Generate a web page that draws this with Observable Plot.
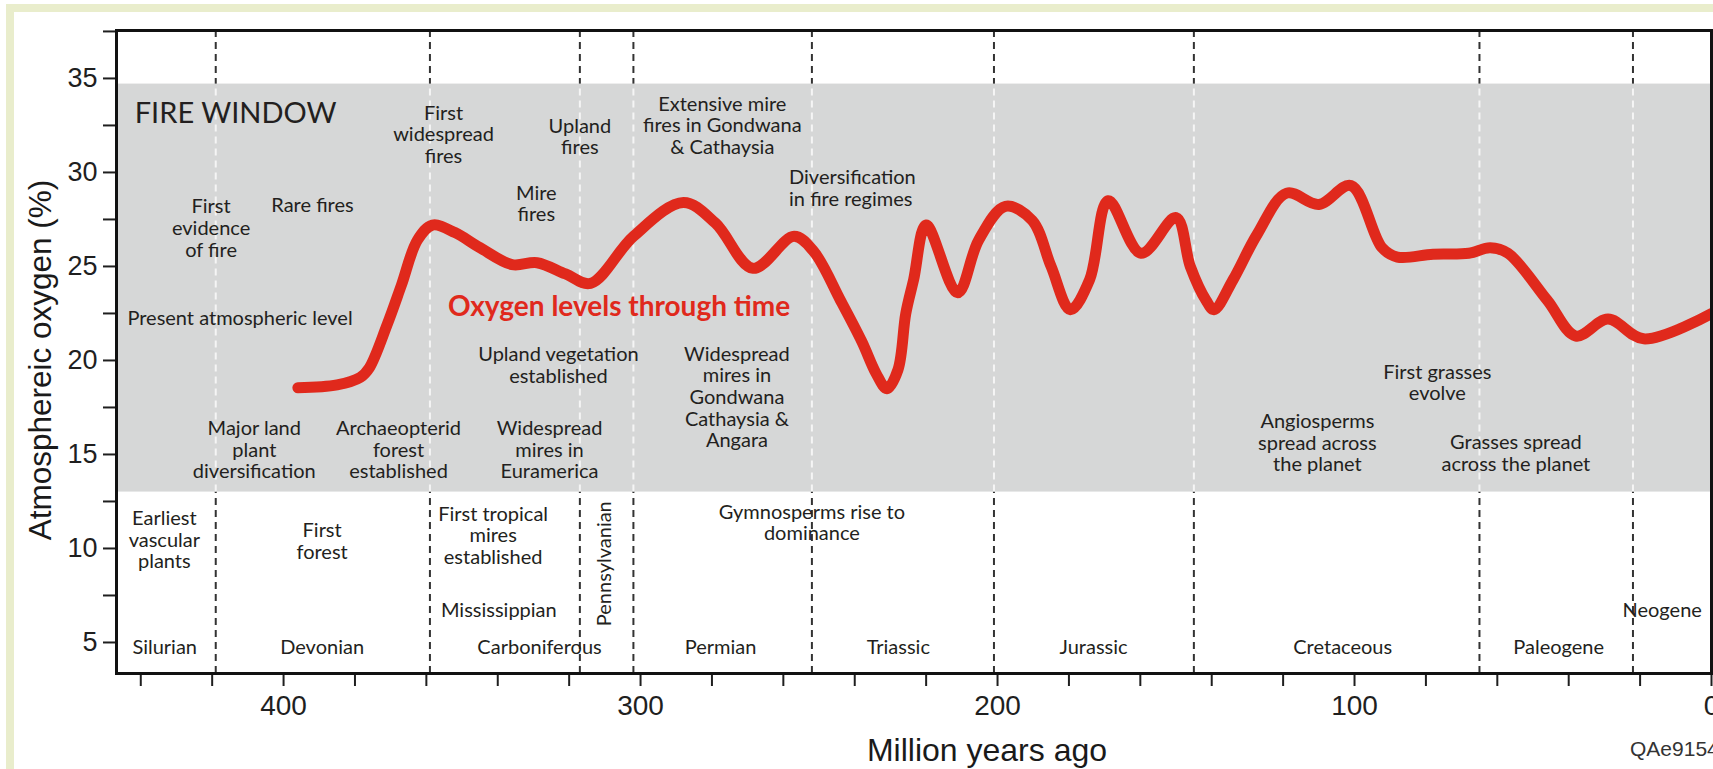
<!DOCTYPE html>
<html>
<head>
<meta charset="utf-8">
<script src="https://cdn.jsdelivr.net/npm/d3@7"></script>
<script src="https://cdn.jsdelivr.net/npm/@observablehq/plot@0.6"></script>
<style>
  html, body { margin: 0; padding: 0; background: #ffffff; }
  body { width: 1713px; height: 769px; overflow: hidden; position: relative; }
  #border { position: absolute; left: 6px; top: 4px; width: 1800px; height: 900px;
            border: 8px solid #e9edcc; box-sizing: border-box; background: #ffffff; }
  #chart { position: absolute; left: 0; top: 0; }
  .lab { position: absolute; font-family: "Liberation Sans", Arial, sans-serif; color: #1a1a1a;
         white-space: nowrap; transform: translate(-50%, -50%); }
</style>
</head>
<body>
<div id="border"></div>
<div id="chart"></div>
<div class="lab" style="left:40px; top:360px; font-size:31.5px; transform: translate(-50%,-50%) rotate(-90deg);">Atmosphereic oxygen (%)</div>
<div class="lab" style="left:987px; top:750px; font-size:32px;">Million years ago</div>
<div class="lab" style="left:1630px; top:749px; font-size:21px; transform: translate(0,-50%); color:#333;">QAe9154</div>
<script>
// ---- data ----
const ages = [396, 385, 378.5, 376, 371, 367, 362.5, 358.3, 352, 345, 336, 329, 321, 314, 302, 288, 279, 268.5, 257, 251.5, 244, 238, 234, 231, 227.9, 225.7, 223.5, 220, 211.2, 205.3, 197.8, 190.3, 185, 179.6, 174.2, 169, 159.8, 150, 146, 141.6, 139.4, 134, 127.3, 119, 110, 101, 92.3, 88, 78, 68, 62, 57, 46, 38, 29, 19, 0];
const oxygen = [18.55, 18.7, 19.1, 19.6, 21.9, 24.0, 26.4, 27.2, 26.8, 26.0, 25.1, 25.2, 24.6, 24.1, 26.6, 28.4, 27.3, 24.9, 26.6, 25.8, 23.2, 21.0, 19.3, 18.5, 19.5, 22.5, 24.3, 27.2, 23.6, 26.4, 28.2, 27.45, 25.0, 22.7, 24.3, 28.5, 25.7, 27.6, 25.0, 23.2, 22.7, 24.3, 26.7, 28.9, 28.3, 29.3, 26.0, 25.5, 25.65, 25.7, 26.0, 25.7, 23.2, 21.3, 22.2, 21.15, 22.5];

const boundaries = [419, 359, 317, 302, 252, 201, 145, 65, 22];
const fireWindow = [{lo: 13, hi: 34.7}];
const xDomain = [446.8, 0];
const yDomain = [3.35, 37.55];
const xTicks = d3.range(0, 441, 20);
const yTicks = d3.range(5, 37.6, 2.5);

const periodNames = ["Silurian", "Devonian", "Carboniferous", "Permian", "Triassic", "Jurassic", "Cretaceous", "Paleogene"];
const periodMid   = [433.3, 389.2, 328.3, 277.6, 227.8, 173.1, 103.3, 42.8];
const periodLevel = 4.75;

const noteLabels = [
  "First\nevidence\nof fire", "Rare fires", "First\nwidespread\nfires", "Upland\nfires", "Mire\nfires",
  "Extensive mire\nfires in Gondwana\n& Cathaysia", "Present atmospheric level",
  "Upland vegetation\nestablished", "Widespread\nmires in\nGondwana\nCathaysia &\nAngara",
  "Major land\nplant\ndiversification", "Archaeopterid\nforest\nestablished", "Widespread\nmires in\nEuramerica",
  "Earliest\nvascular\nplants", "First\nforest", "First tropical\nmires\nestablished", "Mississippian",
  "Gymnosperms rise to\ndominance", "Angiosperms\nspread across\nthe planet", "First grasses\nevolve",
  "Grasses spread\nacross the planet", "Neogene"
];
const noteAge = [420.3, 391.9, 355.2, 317, 329.2, 277.1, 412.2, 323, 273, 408.2, 367.8, 325.5, 433.4, 389.2, 341.3, 339.7, 252, 110.4, 76.8, 54.8, 13.8];
const noteO2  = [27.04, 28.28, 32.02, 31.9, 28.35, 32.5, 22.27, 19.74, 18.05, 15.25, 15.25, 15.25, 10.46, 10.4, 10.69, 6.7, 11.37, 15.62, 18.82, 15.08, 6.7];

const leftNotes = [
  {label: "FIRE WINDOW", t: 441.7, v: 33.1, big: true},
  {label: "Diversification\nin fire regimes", t: 258.4, v: 29.16, big: false}
];
const titleNote = [{label: "Oxygen levels through time", t: 306, v: 22.84}];
const verticalNote = [{label: "Pennsylvanian", t: 310, v: 9.19}];

// ---- build ----
const series = ages.map((t, i) => ({t, v: oxygen[i]}));
const notes = noteLabels.map((label, i) => ({label, t: noteAge[i], v: noteO2[i]}));
const periods = periodNames.map((label, i) => ({label, t: periodMid[i], v: periodLevel}));

const red = "#e0291c";
const ink = "#231f20";
const noteFont = "Lato, 'Open Sans', sans-serif";

const chart = Plot.plot({
  width: 1713,
  height: 769,
  marginLeft: 116,
  marginRight: 2,
  marginTop: 30,
  marginBottom: 96,
  x: {domain: xDomain},
  y: {domain: yDomain},
  style: {background: "transparent", fontFamily: "'Liberation Sans', Arial, sans-serif", color: "#1f1f1f", overflow: "visible"},
  marks: [
    Plot.ruleX(boundaries, {stroke: "#333", strokeWidth: 2, strokeDasharray: "7,5"}),
    Plot.rect(fireWindow, {x1: () => xDomain[0], x2: () => xDomain[1], y1: "lo", y2: "hi", fill: "#d6d7d7"}),
    Plot.ruleX(boundaries, {y1: () => fireWindow[0].lo, y2: () => fireWindow[0].hi, stroke: "#f5f5f5", strokeWidth: 2, strokeDasharray: "7,5"}),
    Plot.line(series, {x: "t", y: "v", stroke: red, strokeWidth: 11, curve: "catmull-rom", strokeLinecap: "round", strokeLinejoin: "round"}),
    Plot.text(notes, {x: "t", y: "v", text: "label", fontFamily: noteFont, fontSize: 20, lineHeight: 1.08, fill: ink}),
    Plot.text(periods, {x: "t", y: "v", text: "label", fontFamily: noteFont, fontSize: 20, fill: ink}),
    Plot.text(leftNotes.filter(d => d.big), {x: "t", y: "v", text: "label", textAnchor: "start", fontFamily: noteFont, fontSize: 29, fill: ink}),
    Plot.text(leftNotes.filter(d => !d.big), {x: "t", y: "v", text: "label", textAnchor: "start", fontFamily: noteFont, fontSize: 20, lineHeight: 1.08, fill: ink}),
    Plot.text(titleNote, {x: "t", y: "v", text: "label", fontFamily: noteFont, fontSize: 28, fontWeight: "bold", fill: red}),
    Plot.text(verticalNote, {x: "t", y: "v", text: "label", rotate: -90, fontFamily: noteFont, fontSize: 20, fill: ink}),
    Plot.axisX(xTicks, {tickSize: 13, tickPadding: 9, strokeWidth: 2, fontSize: 28, label: null,
      tickFormat: d => d % 100 === 0 ? String(d) : ""}),
    Plot.axisY(yTicks, {tickSize: 13, tickPadding: 6, strokeWidth: 2, fontSize: 27, label: null,
      tickFormat: d => d % 5 === 0 ? String(d) : ""}),
    Plot.frame({stroke: "#111", strokeWidth: 3})
  ]
});
document.getElementById("chart").appendChild(chart);
</script>
</body>
</html>
